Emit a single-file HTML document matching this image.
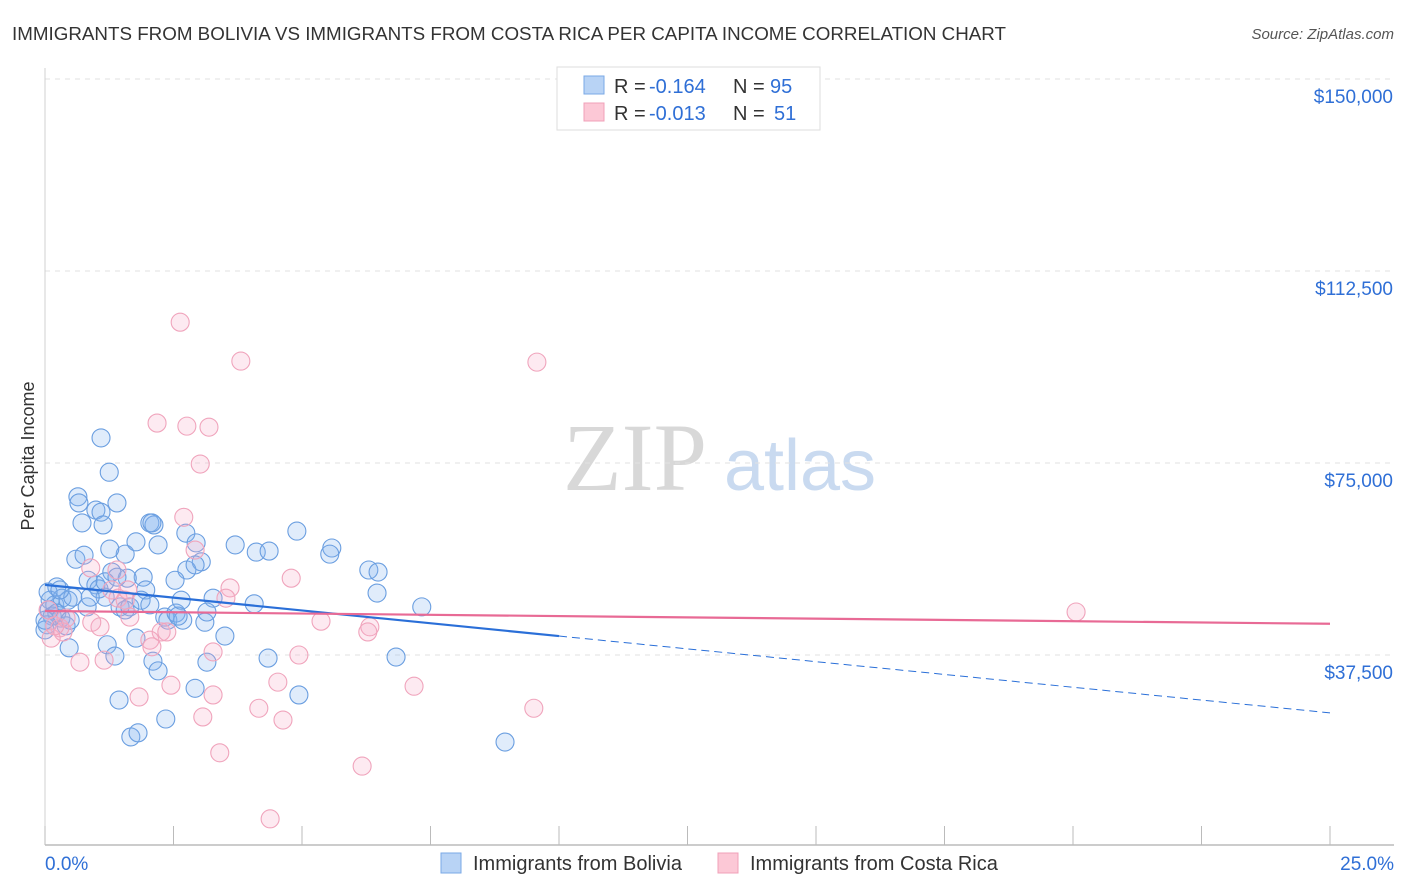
<!DOCTYPE html>
<html><head><meta charset="utf-8"><style>
body{margin:0;background:#fff;font-family:"Liberation Sans",sans-serif;}
svg{display:block}
</style></head><body>
<svg id="c" width="1406" height="892">
<text x="12" y="40" font-size="18" fill="#333" textLength="994" lengthAdjust="spacingAndGlyphs">IMMIGRANTS FROM BOLIVIA VS IMMIGRANTS FROM COSTA RICA PER CAPITA INCOME CORRELATION CHART</text>
<text x="1394" y="39" font-size="15" fill="#555" text-anchor="end" font-style="italic">Source: ZipAtlas.com</text>
<text x="635" y="490" font-size="96" fill="#d8d8d8" text-anchor="middle" font-family="Liberation Serif,serif">ZIP</text>
<text x="800" y="490" font-size="72" fill="#c9daf0" text-anchor="middle">atlas</text>
<text transform="translate(34,456) rotate(-90)" font-size="18" fill="#333" text-anchor="middle">Per Capita Income</text>
<g id="grid"></g><g id="marks"></g>
<g>
<rect x="557" y="67" width="263" height="63" fill="#fff" stroke="#ddd"/>
<rect x="584" y="76" width="20" height="18" fill="#b8d3f5" stroke="#7aa8e6"/>
<rect x="584" y="103" width="20" height="18" fill="#fcc8d6" stroke="#f0a0b8"/>
<text y="93" font-size="20" fill="#333"><tspan x="614">R =</tspan><tspan x="649" fill="#2f6fd6">-0.164</tspan><tspan x="733">N =</tspan><tspan x="770" fill="#2f6fd6">95</tspan></text>
<text y="120" font-size="20" fill="#333"><tspan x="614">R =</tspan><tspan x="649" fill="#2f6fd6">-0.013</tspan><tspan x="733">N =</tspan><tspan x="774" fill="#2f6fd6">51</tspan></text>
</g>
<g>
<rect x="441" y="853" width="20" height="20" fill="#b8d3f5" stroke="#7aa8e6"/>
<text x="473" y="870" font-size="20" fill="#333">Immigrants from Bolivia</text>
<rect x="718" y="853" width="20" height="20" fill="#fcc8d6" stroke="#f0a0b8"/>
<text x="750" y="870" font-size="20" fill="#333">Immigrants from Costa Rica</text>
</g>
</svg>
<script>
const yTicks=[37500,75000,112500,150000];
const yTickLabels=["$37,500","$75,000","$112,500","$150,000"];
const xTickLabels=["0.0%","25.0%"];
const boliviaX=[1.09,1.25,0.64,0.66,1.40,0.99,1.09,0.72,1.13,2.04,2.12,2.08,4.90,2.74,1.56,1.26,1.77,2.20,2.94,3.70,4.11,4.36,5.58,5.54,0.60,0.76,3.04,2.76,6.30,6.48,1.30,1.91,1.60,0.84,0.99,0.23,2.53,2.92,1.96,6.46,1.05,1.17,0.10,0.19,0.33,0.45,0.54,0.08,0.14,0.23,0.31,0.82,1.46,1.56,1.65,3.27,4.07,2.33,2.39,2.55,2.68,3.11,7.33,3.15,0.04,0.41,1.77,3.50,0.47,1.21,1.36,2.10,2.20,3.15,4.34,6.83,2.92,4.94,1.44,2.35,1.67,1.81,8.95,0.00,0.00,2.59,1.17,1.40,1.87,0.06,0.29,2.65,0.88,0.49,2.04];
const boliviaY=[79.9,73.2,68.4,67.2,67.2,65.8,65.4,63.3,62.9,63.3,62.9,63.3,61.7,61.3,57.2,58.2,59.6,59.0,59.4,59.0,57.6,57.8,58.4,57.2,56.2,57.0,55.7,54.1,54.1,53.7,53.7,52.7,52.5,52.1,51.2,50.8,52.1,55.1,50.2,49.6,50.4,51.8,48.2,47.3,48.6,48.2,48.8,46.3,45.1,45.7,44.7,46.9,46.9,46.3,46.9,48.6,47.5,44.9,44.3,45.7,44.3,43.9,46.9,45.9,43.4,43.2,40.8,41.2,38.9,39.5,37.3,36.3,34.4,36.1,36.9,37.1,31.0,29.7,28.7,25.0,21.5,22.3,20.5,42.4,44.3,45.1,48.8,52.7,48.2,49.8,50.2,48.2,48.8,44.3,47.3];
const costaX=[2.63,3.81,9.57,2.18,2.76,3.19,3.02,2.70,2.92,4.79,3.60,3.52,1.42,1.30,0.89,1.56,1.65,2.26,2.37,2.04,2.08,1.07,0.91,0.29,0.35,0.12,0.19,0.68,1.15,3.27,4.94,5.37,6.32,6.28,4.53,3.27,1.83,2.45,7.18,3.07,4.16,4.63,9.51,3.40,6.17,4.38,20.06,1.61,1.40,0.06,0.41];
const costaY=[102.5,94.9,94.7,82.8,82.2,82.0,74.8,64.4,58.0,52.5,50.6,48.6,48.6,50.2,54.5,48.2,44.9,42.0,42.0,40.4,39.1,43.0,43.9,42.8,42.0,40.8,43.2,36.1,36.5,38.1,37.5,44.1,43.0,42.0,32.2,29.7,29.3,31.6,31.4,25.4,27.1,24.8,27.1,18.4,15.8,5.5,45.9,50.2,54.1,46.3,44.7];
const boliviaTrendX=[0,10,25];const boliviaTrendY=[51.2,41.2,26.2];
const costaTrendX=[0,25];const costaTrendY=[46.1,43.6];
const NS="http://www.w3.org/2000/svg";
const X=v=>45+v/25*1285, Y=v=>847-v/150*768;
function mk(t,a,p){const e=document.createElementNS(NS,t);for(const k in a)e.setAttribute(k,a[k]);p.appendChild(e);return e;}
const g=document.getElementById('grid'),m=document.getElementById('marks');
yTicks.forEach((t,i)=>{
 const l=mk('line',{x1:45,x2:1394,y1:Y(t/1000),y2:Y(t/1000),stroke:'#e2e2e2','stroke-dasharray':'5,5'},g);
 
 
 const tx=mk('text',{x:1393,y:Y(t/1000)+24,'font-size':19,fill:'#2f6fd6','text-anchor':'end'},g);
 tx.textContent=yTickLabels[i];
 
 
});
const ax=mk('line',{x1:45,x2:1394,y1:845,y2:845,stroke:'#bbb','stroke-width':1.5},g);


const ay=mk('line',{x1:45,x2:45,y1:68,y2:845,stroke:'#d0d0d0'},g);


for(let i=0;i<=10;i++){const t=mk('line',{x1:X(i*2.5),x2:X(i*2.5),y1:826,y2:845,stroke:'#bbb'},g);
 
 }
[[0,'start',45],[25,'end',1394]].forEach((d,i)=>{const t=mk('text',{x:d[2],y:870,'font-size':19,fill:'#2f6fd6','text-anchor':d[1]},g);t.textContent=xTickLabels[i];
 
 });
function pts(xs,ys,fill,stroke,name){xs.forEach((x,i)=>{const c=mk('circle',{cx:X(x),cy:Y(ys[i]),r:9,fill:fill,stroke:stroke,'stroke-width':1.1},m);
 
 });}
pts(boliviaX,boliviaY,'rgba(130,180,240,0.25)','#6a9ee0','bolivia-point');
pts(costaX,costaY,'rgba(248,170,198,0.25)','#f0a4bc','costa-rica-point');
const b1=mk('line',{x1:X(boliviaTrendX[0]),y1:Y(boliviaTrendY[0]),x2:X(boliviaTrendX[1]),y2:Y(boliviaTrendY[1]),stroke:'#2a6fd8','stroke-width':2.2},m);


const b2=mk('line',{x1:X(boliviaTrendX[1]),y1:Y(boliviaTrendY[1]),x2:X(boliviaTrendX[2]),y2:Y(boliviaTrendY[2]),stroke:'#2a6fd8','stroke-width':1,'stroke-dasharray':'8,5'},m);


const c1=mk('line',{x1:X(costaTrendX[0]),y1:Y(costaTrendY[0]),x2:X(costaTrendX[1]),y2:Y(costaTrendY[1]),stroke:'#e86a95','stroke-width':2.2},m);


</script>
</body></html>
